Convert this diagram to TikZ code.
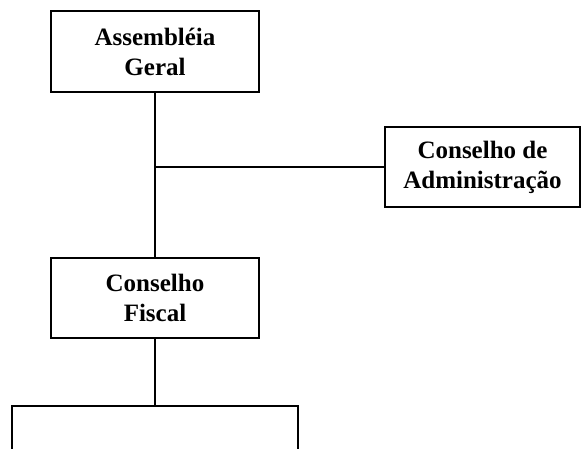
\documentclass[tikz,border=0pt]{standalone}
\usepackage{fontspec}
\setmainfont{Liberation Serif}
\usetikzlibrary{positioning}

\begin{document}
\begin{tikzpicture}[x=1pt, y=-1pt]
\tikzset{orgbox/.style =
        {
            rectangle,
            draw,
            line width=1.5pt,
            align=center,
            inner sep=0pt,
            font=\fontsize{25}{30}\selectfont\bfseries
        }
}

\tikzset{link/.style =
        {
            line width=1.5pt
        }
}

		\useasboundingbox (0,0) rectangle (582,449);
		\clip (0,0) rectangle (582,449);

		\node[orgbox, minimum width=208pt, minimum height=81pt] at (155,51.5) (assembleia) {Assembléia\\Geral};
		\node[orgbox, minimum width=195pt, minimum height=80pt] at (482.5,167) (administracao) {Conselho de\\Administração};
		\node[orgbox, minimum width=208pt, minimum height=80pt] at (155,298) (fiscal) {Conselho\\Fiscal};
		\node[orgbox, minimum width=286pt, minimum height=100pt] at (155,456) (diretoria) {};

		\coordinate (juncao) at (assembleia.south |- administracao.west);

		\draw[link] (assembleia) -- (fiscal);
		\draw[link] (juncao) -- (administracao);
		\draw[link] (fiscal) -- (diretoria);

	\end{tikzpicture}
\end{document}
